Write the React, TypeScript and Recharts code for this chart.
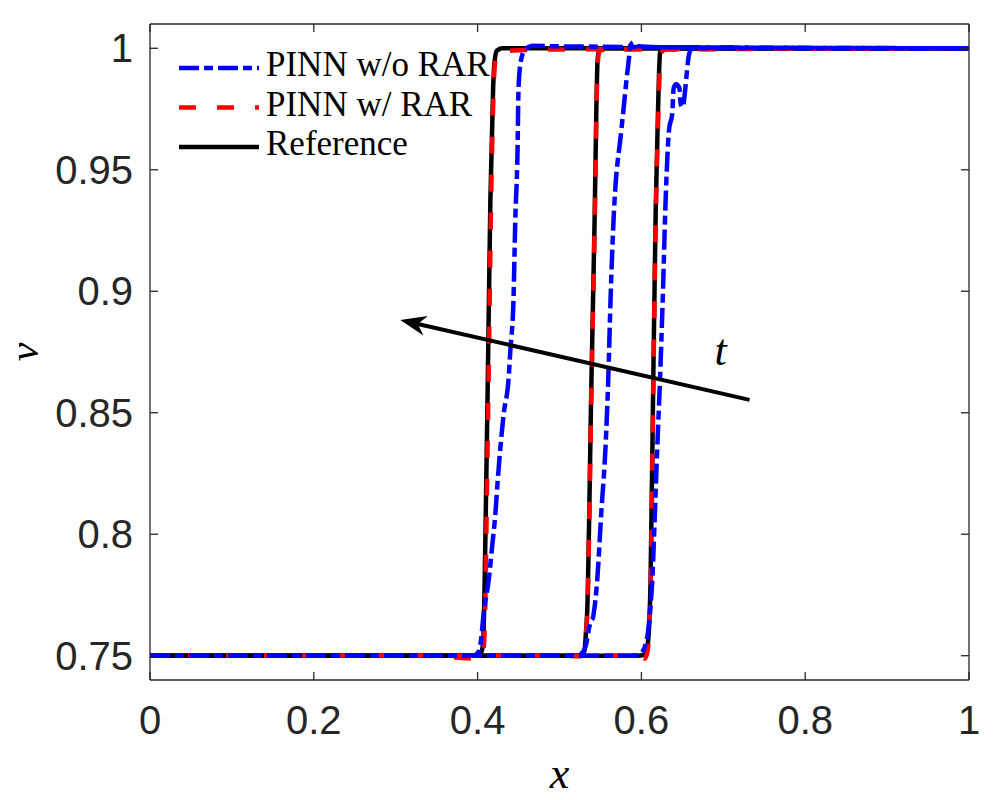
import React from 'react';
import { LineChart, Line, XAxis, YAxis, Legend, ReferenceLine, ReferenceDot } from 'recharts';

const BLUE = '#0000ff';
const RED = '#ff0000';
const BLACK = '#000000';
const AXIS = '#262626';

const X_TICKS = [0, 0.2, 0.4, 0.6, 0.8, 1];
const Y_TICKS = [0.75, 0.8, 0.85, 0.9, 0.95, 1];

// reference solution, three snapshots (right to left = later t)
const REF_1 = [[0, 0.75], [0.395, 0.75], [0.402, 0.7503], [0.405, 0.752], [0.4067, 0.755], [0.4105, 0.82], [0.4125, 0.865], [0.4156, 0.9375], [0.419, 0.984], [0.4205, 0.994], [0.4235, 0.999], [0.43, 1], [1, 1]];
const REF_2 = [[0, 0.75], [0.52, 0.75], [0.527, 0.7503], [0.5305, 0.752], [0.532, 0.758], [0.5338, 0.768], [0.539, 0.8635], [0.543, 0.932], [0.545, 0.975], [0.5465, 0.995], [0.5485, 0.9995], [0.555, 1], [1, 1]];
const REF_3 = [[0, 0.75], [0.595, 0.75], [0.603, 0.7503], [0.6065, 0.7525], [0.609, 0.7595], [0.6112, 0.7813], [0.6145, 0.8635], [0.6174, 0.932], [0.62, 0.9704], [0.6227, 0.9979], [0.625, 0.9998], [0.63, 1], [1, 1]];

// PINN w/ RAR
const RAR_1 = [[0, 0.75], [0.33, 0.75], [0.36, 0.7496], [0.385, 0.749], [0.398, 0.7488], [0.404, 0.749], [0.4075, 0.7535], [0.409, 0.765], [0.4115, 0.82], [0.4135, 0.865], [0.4165, 0.9375], [0.4195, 0.982], [0.421, 0.993], [0.424, 0.998], [0.44, 0.999], [0.5, 0.9995], [1, 1]];
const RAR_2 = [[0, 0.75], [0.5, 0.75], [0.526, 0.7498], [0.5305, 0.7515], [0.532, 0.758], [0.534, 0.768], [0.5392, 0.8635], [0.5432, 0.932], [0.5452, 0.975], [0.5467, 0.994], [0.549, 0.999], [0.56, 0.9995], [1, 1]];
const RAR_3 = [[0, 0.75], [0.58, 0.75], [0.598, 0.7495], [0.604, 0.7488], [0.607, 0.751], [0.6095, 0.76], [0.6115, 0.7813], [0.6147, 0.8635], [0.6176, 0.932], [0.6205, 0.9704], [0.6225, 0.992], [0.6235, 0.998], [0.63, 0.9995], [1, 1]];

// PINN w/o RAR
const NO_RAR_1 = [[0, 0.75], [0.38, 0.75], [0.396, 0.7502], [0.401, 0.7515], [0.404, 0.756], [0.4075, 0.7677], [0.4136, 0.7813], [0.4177, 0.7948], [0.4218, 0.8088], [0.4246, 0.8224], [0.4279, 0.8359], [0.432, 0.8499], [0.4377, 0.8635], [0.44, 0.8758], [0.4438, 0.8964], [0.446, 0.9293], [0.4487, 0.9568], [0.45, 0.984], [0.453, 0.995], [0.458, 0.9995], [0.468, 1.001], [0.5, 1.0008], [1, 1]];
const NO_RAR_2 = [[0, 0.75], [0.515, 0.75], [0.524, 0.7502], [0.5285, 0.7515], [0.5318, 0.7537], [0.5365, 0.762], [0.5392, 0.7648], [0.5405, 0.7652], [0.5419, 0.7677], [0.5461, 0.7813], [0.551, 0.8088], [0.5562, 0.8359], [0.5595, 0.8635], [0.5623, 0.8964], [0.566, 0.9293], [0.5755, 0.9663], [0.5785, 0.976], [0.5815, 0.986], [0.5845, 0.995], [0.587, 1.0015], [0.5905, 1.0025], [0.595, 1.001], [0.61, 1.0005], [1, 1]];
const NO_RAR_3 = [[0, 0.75], [0.585, 0.75], [0.5945, 0.7502], [0.601, 0.7515], [0.605, 0.7545], [0.608, 0.7595], [0.6104, 0.7677], [0.6133, 0.7813], [0.6165, 0.8088], [0.6194, 0.8359], [0.6227, 0.8635], [0.626, 0.8964], [0.6296, 0.9375], [0.6337, 0.9663], [0.6377, 0.9733], [0.6394, 0.9836], [0.6425, 0.9852], [0.6465, 0.9835], [0.648, 0.977], [0.6505, 0.9758], [0.6525, 0.98], [0.6555, 0.9901], [0.6575, 0.9963], [0.6605, 0.9995], [0.667, 1], [1, 1]];

// time arrow (tail -> head) and its label
const ARROW = [{ x: 0.732, y: 0.8553 }, { x: 0.3056, y: 0.8882 }];
const T_LABEL = { x: 0.6968, y: 0.8697 };

const toPoints = (pairs: number[][]) => pairs.map(([x, v]) => ({ x, v }));

const SERIES = [
  { name: 'Reference', color: BLACK, dash: undefined, curves: [REF_1, REF_2, REF_3] },
  { name: 'PINN w/ RAR', color: RED, dash: '17 21', curves: [RAR_1, RAR_2, RAR_3] },
  { name: 'PINN w/o RAR', color: BLUE, dash: '20 5 9 5', curves: [NO_RAR_1, NO_RAR_2, NO_RAR_3] },
];

const LEGEND_ORDER = ['PINN w/o RAR', 'PINN w/ RAR', 'Reference'];

const tickStyle = { fill: AXIS, fontSize: 40, fontFamily: 'Liberation Sans' };
const mathFont = { fontFamily: 'Liberation Serif', fontStyle: 'italic' as const, fontSize: 44, fill: BLACK };
const boxLine = { stroke: AXIS, strokeWidth: 1.3 };

function LegendBox() {
  return (
    <svg width={340} height={130}>
      {LEGEND_ORDER.map((name, i) => {
        const s = SERIES.find((d) => d.name === name)!;
        return (
          <g key={name}>
            <line x1={9} x2={89} y1={28 + i * 39.5} y2={28 + i * 39.5} stroke={s.color} strokeWidth={4.5} strokeDasharray={s.dash} />
            <text x={96} y={36 + i * 39.5} fontFamily="Liberation Serif" fontSize={35} fill={BLACK}>{name}</text>
          </g>
        );
      })}
    </svg>
  );
}

function Arrow(props: any) {
  const { x1, y1, x2, y2 } = props;
  const len = Math.hypot(x2 - x1, y2 - y1);
  const ux = (x2 - x1) / len;
  const uy = (y2 - y1) / len;
  const bx = x2 - ux * 26;
  const by = y2 - uy * 26;
  const nx = x2 - ux * 18;
  const ny = y2 - uy * 18;
  const pts = `${x2},${y2} ${bx - uy * 10},${by + ux * 10} ${nx},${ny} ${bx + uy * 10},${by - ux * 10}`;
  return (
    <g>
      <line x1={x1} y1={y1} x2={nx} y2={ny} stroke={BLACK} strokeWidth={4} />
      <polygon points={pts} fill={BLACK} />
    </g>
  );
}

export default function App() {
  return (
    <div style={{ position: 'absolute', left: 0, top: 0, width: 1000, height: 800, background: '#fff' }}>
      <LineChart width={1000} height={800} margin={{ top: 24, right: 31, bottom: 30, left: 10 }}>
        <XAxis
          xAxisId="b"
          type="number"
          dataKey="x"
          domain={[0, 1]}
          allowDataOverflow
          ticks={X_TICKS}
          interval={0}
          height={90}
          tickSize={0}
          tickMargin={26}
          tickLine={false}
          tick={tickStyle}
          axisLine={boxLine}
          label={(p: any) => (
            <text x={p.viewBox.x + p.viewBox.width / 2} y={788} textAnchor="middle" {...mathFont}>x</text>
          )}
        />
        {/* inward ticks + box edges */}
        <XAxis xAxisId="bm" type="number" dataKey="x" domain={[0, 1]} allowDataOverflow ticks={X_TICKS} interval={0}
          mirror height={1} tickSize={8} tickFormatter={() => ''} axisLine={false} tickLine={boxLine} />
        <XAxis xAxisId="t" orientation="top" type="number" dataKey="x" domain={[0, 1]} allowDataOverflow ticks={X_TICKS} interval={0}
          mirror height={1} tickSize={8} tickFormatter={() => ''} axisLine={boxLine} tickLine={boxLine} />
        <YAxis
          yAxisId="l"
          type="number"
          domain={[0.74, 1.01]}
          allowDataOverflow
          ticks={Y_TICKS}
          interval={0}
          width={140}
          tickSize={0}
          tickMargin={17}
          tickLine={false}
          tick={tickStyle}
          axisLine={boxLine}
          label={(p: any) => {
            const lx = p.viewBox.x + 28;
            const ly = p.viewBox.y + p.viewBox.height / 2;
            return (
              <text x={lx} y={ly} textAnchor="middle" transform={`rotate(-90 ${lx} ${ly})`} {...mathFont} fontSize={42}>v</text>
            );
          }}
        />
        <YAxis yAxisId="lm" type="number" domain={[0.74, 1.01]} allowDataOverflow ticks={Y_TICKS} interval={0}
          mirror width={1} tickSize={8} tickFormatter={() => ''} axisLine={false} tickLine={boxLine} />
        <YAxis yAxisId="rm" orientation="right" type="number" domain={[0.74, 1.01]} allowDataOverflow ticks={Y_TICKS} interval={0}
          mirror width={1} tickSize={8} tickFormatter={() => ''} axisLine={boxLine} tickLine={boxLine} />

        {SERIES.map((s) =>
          s.curves.map((c, i) => (
            <Line
              key={`${s.name}-${i}`}
              xAxisId="b"
              yAxisId="l"
              data={toPoints(c)}
              dataKey="v"
              name={s.name}
              type="monotone"
              stroke={s.color}
              strokeWidth={4.5}
              strokeDasharray={s.dash}
              dot={false}
              activeDot={false}
              legendType="none"
              isAnimationActive={false}
            />
          ))
        )}

        <ReferenceLine xAxisId="b" yAxisId="l" segment={ARROW} shape={Arrow} ifOverflow="visible" />
        <ReferenceDot xAxisId="b" yAxisId="l" x={T_LABEL.x} y={T_LABEL.y} ifOverflow="visible"
          shape={(p: any) => <text x={p.cx} y={p.cy} textAnchor="middle" {...mathFont}>t</text>} />

        <Legend layout="vertical" align="center" verticalAlign="middle" content={<LegendBox />}
          wrapperStyle={{ left: 170, top: 40, width: 340, height: 130 }} />
      </LineChart>
    </div>
  );
}
